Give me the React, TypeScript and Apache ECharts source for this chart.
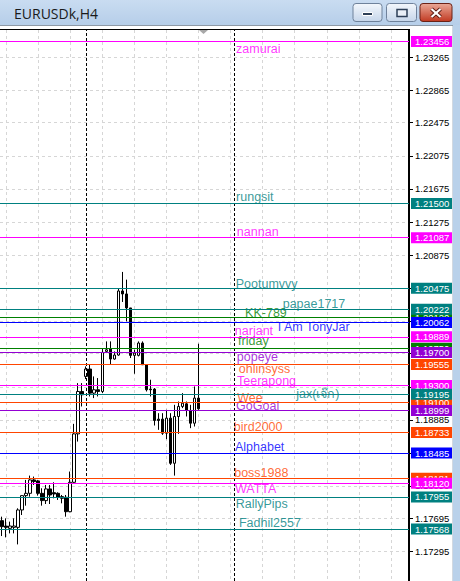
import { useEffect, useRef } from 'react';
import * as echarts from 'echarts';

const chartTitle = 'EURUSDk,H4';

// H4 candles, oldest first
const opens = [
  1.17669, 1.17604, 1.17576, 1.17588, 1.17588, 1.17798, 1.17971, 1.17999, 1.18161, 1.18149,
  1.17999, 1.17911, 1.18052, 1.18007, 1.17999, 1.17959, 1.17951, 1.17777, 1.18132, 1.18717,
  1.19229, 1.19411, 1.19500, 1.19209, 1.19250, 1.19229, 1.19713, 1.19742, 1.19621, 1.19669,
  1.20443, 1.20407, 1.20238, 1.19665, 1.19665, 1.19814, 1.19552, 1.19258, 1.19258, 1.18895,
  1.18895, 1.18725, 1.18907, 1.18362, 1.18927, 1.19048, 1.19080, 1.19000, 1.18846, 1.19149,
];
const closes = [
  1.17596, 1.17588, 1.17604, 1.17604, 1.17798, 1.17971, 1.17999, 1.18161, 1.18141, 1.17999,
  1.17911, 1.18052, 1.17979, 1.17991, 1.17951, 1.17939, 1.17777, 1.18132, 1.18717, 1.19229,
  1.19189, 1.19500, 1.19209, 1.19250, 1.19229, 1.19701, 1.19733, 1.19621, 1.19669, 1.20443,
  1.20407, 1.20238, 1.19665, 1.19693, 1.19814, 1.19552, 1.19250, 1.19250, 1.18879, 1.18879,
  1.18725, 1.18907, 1.18362, 1.18927, 1.19048, 1.19088, 1.19000, 1.18846, 1.19149, 1.19020,
];
const lows = [
  1.17483, 1.17467, 1.17515, 1.17515, 1.17382, 1.17737, 1.17850, 1.17959, 1.18100, 1.17971,
  1.17850, 1.17870, 1.17870, 1.17939, 1.17919, 1.17878, 1.17717, 1.17770, 1.18125, 1.18624,
  1.19048, 1.19379, 1.19169, 1.19149, 1.19169, 1.19209, 1.19693, 1.19552, 1.19613, 1.19660,
  1.20310, 1.20076, 1.19633, 1.19443, 1.19653, 1.19550, 1.19229, 1.19169, 1.18818, 1.18766,
  1.18705, 1.18653, 1.18342, 1.18213, 1.18717, 1.19028, 1.18927, 1.18786, 1.18806, 1.19008,
];
const highs = [
  1.17717, 1.17697, 1.17657, 1.17697, 1.17818, 1.17975, 1.18161, 1.18213, 1.18201, 1.18161,
  1.18060, 1.18100, 1.18100, 1.18132, 1.18011, 1.17979, 1.17979, 1.18262, 1.18838, 1.19330,
  1.19330, 1.19532, 1.19552, 1.19411, 1.19391, 1.19742, 1.19834, 1.19834, 1.19713, 1.20468,
  1.20673, 1.20580, 1.20238, 1.19733, 1.19834, 1.19834, 1.19560, 1.19371, 1.19270, 1.18967,
  1.18967, 1.19008, 1.18967, 1.19068, 1.19108, 1.19209, 1.19108, 1.19068, 1.19290, 1.19806,
];

// horizontal price levels, in the order they were placed (later ones sit on top)
const levelNames = [
  'KK-789', 'friday', 'Wee', 'boss1988',
  'zamurai', 'rungsit', 'nannan', 'Pootumvvy', 'papae1717', 'I Am TonyJar', 'narjant',
  'popeye', 'ohlinsyss', 'Teerapong', 'jax(เจ๊ก)', 'GoGoal', 'bird2000', 'Alphabet',
  'WATTA', 'RallyPips', 'Fadhil2557',
];
const levelPrices = [
  1.20120, 1.19750, 1.19100, 1.18181,
  1.23456, 1.21500, 1.21087, 1.20475, 1.20222, 1.20062, 1.19889,
  1.19700, 1.19555, 1.19300, 1.19195, 1.18999, 1.18733, 1.18485,
  1.18120, 1.17955, 1.17568,
];

// price scale tick labels
const tickValues = [
  1.23265, 1.22865, 1.22475, 1.22075, 1.21675, 1.21275, 1.20875, 1.20475,
  1.20080, 1.19685, 1.19285, 1.18885, 1.18485, 1.18090, 1.17695, 1.17295,
];

// time slots (candle positions) where the period separators fall
const separatorSlots = [21, 58];

// ---- styling ----
const PALETTE: Record<string, string> = {
  magenta: '#ff00ff',
  teal: '#008080',
  green: '#008000',
  blue: '#0000ff',
  violet: '#9400d3',
  orange: '#ff4500',
};
const levelColorKeys = [
  'green', 'green', 'orange', 'orange',
  'magenta', 'teal', 'magenta', 'teal', 'teal', 'blue', 'magenta',
  'violet', 'orange', 'magenta', 'teal', 'violet', 'orange', 'blue',
  'magenta', 'teal', 'teal',
];
// name text anchor: [time slot, x nudge px, y offset px from the line]
const levelTextPlacement: [number, number, number][] = [
  [60, 2.5, -4.7], [58, 3.5, -7.5], [58, 2.6, -4], [58, -0.4, -5.6],
  [58, 1.5, 7.5], [58, 1.5, -6.4], [58, 2.3, -5.5], [58, 1.2, -4.8], [70, 0, -5.3],
  [69, -1, 4], [58, 0.3, -5.6], [58, 2.3, 4.4], [58, 4.2, 4.7], [58, 2.4, -4.2],
  [73, 1.5, 0], [58, 1.5, -4.3], [58, -0.7, -6], [58, 0.4, -6], [58, 0.4, 5.6],
  [58, 1.1, 6.7], [59, 0.4, -5.6],
];

const SLOT_COUNT = 102;
const Y_MIN = 1.1694;
const Y_MAX = 1.23595;
const GRID_SLOTS = [1, 9, 17, 25, 33, 41, 49, 57, 65, 73, 81, 89, 97];
const NUM_FONT = 'Liberation Sans, Arial, sans-serif';

export default function App() {
  const ref = useRef<HTMLDivElement>(null);

  useEffect(() => {
    if (!ref.current) return;
    const chart = echarts.init(ref.current, null, { renderer: 'svg' });

    const slots = Array.from({ length: SLOT_COUNT }, (_, i) => String(i));
    const candles = opens.map((o, i) => [o, closes[i], lows[i], highs[i]]);

    const levelLines = levelPrices.map((p, i) => {
      const c = PALETTE[levelColorKeys[i]];
      return {
        yAxis: p,
        lineStyle: { color: c, width: 1, type: 'solid', opacity: 1 },
        label: {
          show: true,
          position: 'end',
          distance: 2,
          formatter: p.toFixed(5),
          color: '#ffffff',
          backgroundColor: c,
          padding: [1, 4, 1, 4],
          fontSize: 9.5,
          lineHeight: 9,
          fontFamily: NUM_FONT,
        },
      };
    });

    // symbol is 1px, so its box top-left sits half a pixel up-left of the point
    const levelTexts = levelNames.map((n, i) => {
      const [slot, dx, dy] = levelTextPlacement[i];
      return {
        value: [slot, levelPrices[i]],
        label: {
          show: true,
          formatter: n,
          color: PALETTE[levelColorKeys[i]],
          position: [0.5 + dx, 0.5 + dy],
          align: 'left',
          verticalAlign: 'middle',
        },
      };
    });

    const btnGrad = (a: string, b: string) => ({
      type: 'linear', x: 0, y: 0, x2: 0, y2: 1,
      colorStops: [{ offset: 0, color: a }, { offset: 1, color: b }],
    });

    chart.setOption({
      animation: false,
      backgroundColor: '#ffffff',
      grid: { left: 0, right: 51, top: 30, bottom: 0, containLabel: false },
      xAxis: [
        {
          type: 'category',
          data: slots,
          boundaryGap: true,
          axisLine: { show: false },
          axisTick: { show: false },
          axisLabel: { show: false },
          splitLine: { show: false },
        },
        {
          type: 'value',
          min: -0.5,
          max: SLOT_COUNT - 0.5,
          axisLine: { show: false },
          axisTick: { show: false, customValues: GRID_SLOTS },
          axisLabel: { show: false, customValues: GRID_SLOTS },
          splitLine: { show: true, lineStyle: { color: '#d6d6d6', type: [3, 3], width: 1 } },
        },
      ],
      yAxis: {
        type: 'value',
        position: 'right',
        min: Y_MIN,
        max: Y_MAX,
        axisLine: { show: true, onZero: false, lineStyle: { color: '#000', width: 2 } },
        axisTick: { show: true, customValues: tickValues, length: 4, lineStyle: { color: '#000', width: 1 } },
        axisLabel: {
          show: true,
          customValues: tickValues,
          formatter: (v: number) => v.toFixed(5),
          margin: 6,
          color: '#000',
          fontSize: 9.5,
          fontFamily: NUM_FONT,
        },
        splitLine: { show: true, lineStyle: { color: '#d6d6d6', type: [3, 3], width: 1 } },
      },
      series: [
        {
          type: 'candlestick',
          xAxisIndex: 0,
          data: candles,
          barWidth: 3,
          silent: true,
          itemStyle: {
            color: '#ffffff',
            color0: '#000000',
            borderColor: '#000000',
            borderColor0: '#000000',
            borderWidth: 1,
          },
          markLine: {
            silent: true,
            symbol: ['none', 'none'],
            label: { show: false },
            lineStyle: { color: '#000', type: [3, 2], width: 1 },
            data: separatorSlots.map((s) => ({ xAxis: s })),
          },
        },
        {
          // level lines with their price tags on the scale
          type: 'line',
          name: 'levels',
          xAxisIndex: 0,
          data: [],
          silent: true,
          clip: false,
          markLine: {
            silent: true,
            symbol: ['none', 'none'],
            precision: 5,
            data: levelLines,
          },
        },
        {
          // level names
          type: 'scatter',
          name: 'names',
          xAxisIndex: 0,
          clip: false,
          silent: true,
          symbolSize: 1,
          itemStyle: { color: 'rgba(0,0,0,0)' },
          label: {
            show: true,
            fontSize: 12.5,
            fontFamily: NUM_FONT,
          },
          labelLayout: { hideOverlap: false },
          data: levelTexts,
        },
      ],
      graphic: [
        // window caption
        {
          type: 'rect', z: 10,
          shape: { x: 0, y: 0, width: 460, height: 25 },
          style: { fill: btnGrad('#c9dcf1', '#b6cee9') },
        },
        {
          type: 'text', x: 14, y: 13, z: 11,
          style: {
            text: chartTitle, fill: '#1a1a1a', font: '14px "Open Sans", "Noto Sans", sans-serif',
            textVerticalAlign: 'middle',
          },
        },
        // minimize
        {
          type: 'rect', x: 353, y: 3.5, z: 11,
          shape: { width: 29, height: 18, r: 3 },
          style: { fill: btnGrad('#f3f7fc', '#c6d6ea'), stroke: '#6f829b', lineWidth: 1 },
        },
        {
          type: 'rect', x: 362.5, y: 12.5, z: 12,
          shape: { width: 10, height: 3 },
          style: { fill: '#2d3f57', stroke: '#ffffff', lineWidth: 1 },
        },
        // maximize
        {
          type: 'rect', x: 386.5, y: 3.5, z: 11,
          shape: { width: 30, height: 18, r: 3 },
          style: { fill: btnGrad('#f3f7fc', '#c6d6ea'), stroke: '#6f829b', lineWidth: 1 },
        },
        {
          type: 'rect', x: 397, y: 9.5, z: 12,
          shape: { width: 10, height: 7 },
          style: { fill: '#e9eff7', stroke: '#2d3f57', lineWidth: 1.5 },
        },
        // close
        {
          type: 'rect', x: 420, y: 3.5, z: 11,
          shape: { width: 32, height: 18, r: 3 },
          style: { fill: btnGrad('#eaa897', '#c13a22'), stroke: '#6b2217', lineWidth: 1 },
        },
        {
          type: 'line', z: 12,
          shape: { x1: 431.5, y1: 9, x2: 440.5, y2: 17 },
          style: { stroke: '#5b1a12', lineWidth: 4 },
        },
        {
          type: 'line', z: 12,
          shape: { x1: 440.5, y1: 9, x2: 431.5, y2: 17 },
          style: { stroke: '#5b1a12', lineWidth: 4 },
        },
        {
          type: 'line', z: 13,
          shape: { x1: 431.5, y1: 9, x2: 440.5, y2: 17 },
          style: { stroke: '#ffffff', lineWidth: 2.2 },
        },
        {
          type: 'line', z: 13,
          shape: { x1: 440.5, y1: 9, x2: 431.5, y2: 17 },
          style: { stroke: '#ffffff', lineWidth: 2.2 },
        },
        // frame edges
        {
          type: 'line', z: 10,
          shape: { x1: 0, y1: 25.5, x2: 453, y2: 25.5 },
          style: { stroke: '#8d99a6', lineWidth: 1 },
        },
        {
          type: 'rect', z: 10,
          shape: { x: 453, y: 25, width: 7, height: 556 },
          style: { fill: '#b9d1ea' },
        },
        {
          type: 'line', z: 10,
          shape: { x1: 452.5, y1: 26, x2: 452.5, y2: 581 },
          style: { stroke: '#d2d9e1', lineWidth: 1 },
        },
        // chart top border
        {
          type: 'line', z: 10,
          shape: { x1: 0, y1: 29.5, x2: 410, y2: 29.5 },
          style: { stroke: '#000000', lineWidth: 1 },
        },
        // chart shift marker
        {
          type: 'polygon', z: 10,
          shape: { points: [[199, 30], [208, 30], [203.5, 34]] },
          style: { fill: '#a8a8a8' },
        },
      ],
    });

    return () => chart.dispose();
  }, []);

  return (
    <div
      ref={ref}
      style={{ position: 'fixed', left: 0, top: 0, width: 460, height: 581, background: '#fff' }}
    />
  );
}
